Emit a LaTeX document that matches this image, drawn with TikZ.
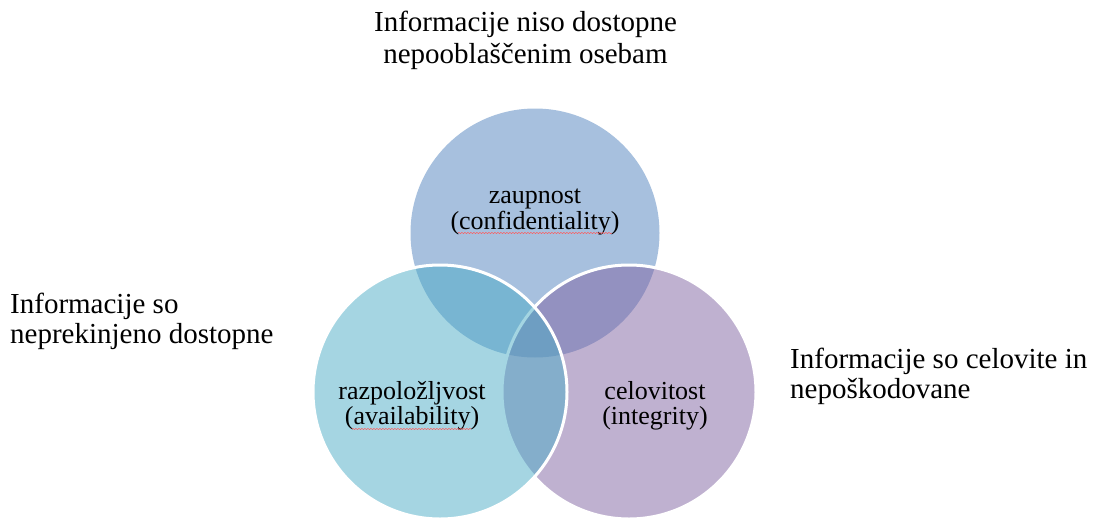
\documentclass[tikz,border=0pt]{standalone}
\usepackage{fontspec}
\setmainfont{Liberation Serif}
\usepackage{xcolor}
\usetikzlibrary{calc}
\usetikzlibrary{decorations.pathmorphing}

\definecolor{zaupcol}{HTML}{4F81BD}
\definecolor{razpcol}{HTML}{4BACC6}
\definecolor{celocol}{HTML}{8064A2}

\begin{document}
\begin{tikzpicture}[x=1pt, y=-1pt,
        krog/.style={draw=white, line width=3pt, fill opacity=0.5, draw opacity=1},
        opis/.style={font=\fontsize{29}{30}\selectfont, inner sep=0pt},
        oznaka/.style={font=\fontsize{26}{25.5}\selectfont, align=center, inner sep=0pt},
        vijuga/.style={red!65, line width=0.5pt, decorate, decoration={snake, amplitude=0.6pt, segment length=3pt}}]
        \useasboundingbox (0,0) rectangle (1096,520);

        % Krogi
        \fill[zaupcol, fill opacity=0.5] (535,233) circle (124.5pt);
        \draw[krog, fill=celocol] (629,392) circle (127pt);
        \draw[krog, fill=razpcol] (440,392) circle (127pt);

        % Oznake v krogih
        \node[oznaka] (zaupL) at (535,212) {zaupnost\\(confidentiality)};
        \node[oznaka] (razpL) at (412,406) {razpoložljvost\\(availability)};
        \node[oznaka] (celoL) at (655,406) {celovitost\\(integrity)};

        % Podcrtano (crkovanje)
        \draw[vijuga] ($(zaupL)+(-77,21)$) -- ($(zaupL)+(77,21)$);
        \draw[vijuga] ($(razpL)+(-60,23)$) -- ($(razpL)+(59,23)$);

        % Opisi
        \node[opis, align=center, anchor=north, font=\fontsize{29}{31.5}\selectfont] (zaupO) at (525.5,11) {Informacije niso dostopne\\nepooblaščenim osebam};
        \node[opis, align=left, anchor=north west] (razpO) at (10,293) {Informacije so\\neprekinjeno dostopne};
        \node[opis, align=left, anchor=north west] (celoO) at (790,348) {Informacije so celovite in\\nepoškodovane};
    \end{tikzpicture}
\end{document}
